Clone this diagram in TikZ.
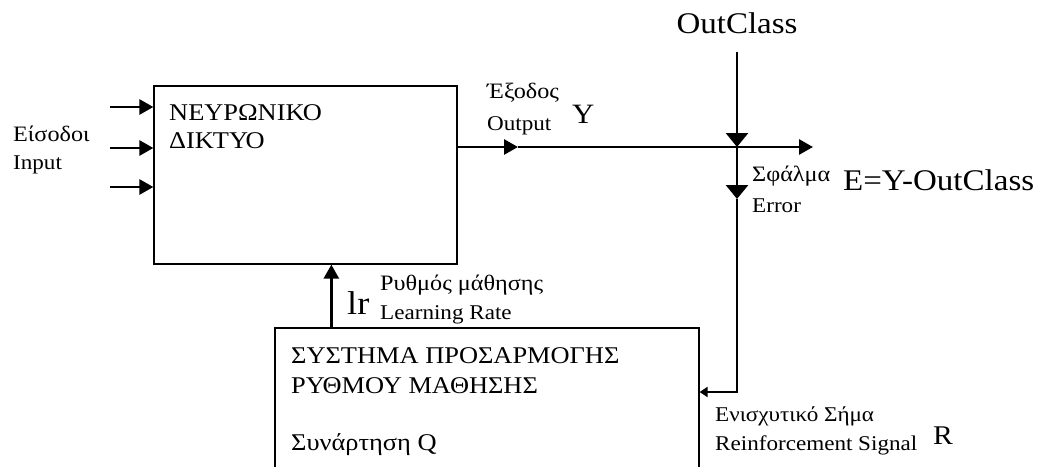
\documentclass[tikz,border=0pt]{standalone}
\usepackage{fontspec}
\setmainfont{Liberation Serif}[FakeStretch=1.1]
\usetikzlibrary{arrows.meta,positioning}

\begin{document}
\begin{tikzpicture}[
  x=1pt, y=-1pt,
  box/.style={draw, line width=1.3pt, inner sep=0pt},
  conn/.style={line width=2.8pt},
  arr/.style={-{Triangle[length=14pt,width=15pt]}},
  warr/.style={-{Triangle[length=14pt,width=22pt]}},
  sarr/.style={-{Triangle[length=8pt,width=10pt]}},
  lbl/.style={font=\fontsize{21}{25}\selectfont, inner sep=0pt, anchor=base west},
  grlbl/.style={font=\fontsize{22}{26}\selectfont, inner sep=0pt, anchor=base west},
  biglbl/.style={font=\fontsize{30}{35}\selectfont, inner sep=0pt, anchor=base west},
  boxtxt/.style={font=\fontsize{24}{29}\selectfont, inner sep=0pt, anchor=base west},
]
  \useasboundingbox (0,0) rectangle (1044,466);
  \clip (0,0) rectangle (1044,466);

  % Neural network block
  \node[box, minimum width=303pt, minimum height=178pt] (nn) at (305.5,175) {};
  \node[boxtxt] (nntitle) at (169,120) {ΝΕΥΡΩΝΙΚΟ};
  \node[boxtxt] (nnsub) at (169,148) {ΔΙΚΤΥΟ};

  % Learning rate adaptation block (runs past the lower edge)
  \node[box, minimum width=424pt, minimum height=180pt] (adapt) at (487,418) {};
  \node[boxtxt] (adtitle) at (291,363) {ΣΥΣΤΗΜΑ ΠΡΟΣΑΡΜΟΓΗΣ};
  \node[boxtxt] (adsub) at (291,393) {ΡΥΘΜΟΥ ΜΑΘΗΣΗΣ};
  \node[boxtxt] (adfunc) at (291,450) {Συνάρτηση Q};

  % Inputs
  \foreach \y/\n in {107/1, 148/2, 187/3}
    \coordinate (in\n) at (110,\y);
  \foreach \n in {1,2,3}
    \draw[conn, arr] (in\n) -- (in\n -| nn.west);
  \node[grlbl] (ingr) at (13,141) {Είσοδοι};
  \node[lbl] (inen) at (13,169) {Input};

  % Output Y
  \coordinate (j) at (737,147);
  \coordinate (ymid) at (518,147);
  \coordinate (yend) at (813,147);
  \draw[conn, arr] (nn.east |- j) -- (ymid);
  \draw[conn, arr] (ymid) -- (yend);
  \node[grlbl] (outgr) at (487,98) {Έξοδος};
  \node[lbl] (outen) at (487,130) {Output};
  \node[biglbl, font=\fontsize{28}{33}\selectfont] (ysym) at (572,123) {Y};

  % Target class
  \node[biglbl, anchor=base] (outclass) at (737,33) {OutClass};
  \coordinate (oc) at (737,52);
  \draw[conn, warr] (oc) -- (j);

  % Error and reinforcement signal
  \coordinate (err) at (737,199);
  \coordinate (corner) at (737,392);
  \draw[conn, warr] (j) -- (err);
  \draw[conn, sarr] (err) -- (corner) -- (adapt.east |- corner);
  \node[grlbl] (errgr) at (752,181) {Σφάλμα};
  \node[lbl] (erren) at (752,212) {Error};
  \node[biglbl] (errformula) at (843,190) {E=Y-OutClass};
  \node[lbl] (rsgr) at (715,421) {Ενισχυτικό Σήμα};
  \node[lbl] (rsen) at (715,450) {Reinforcement Signal};
  \node[biglbl, font=\fontsize{27}{31}\selectfont] (rsym) at (933,444) {R};

  % Learning rate back to the network
  \draw[conn, arr] ([xshift=57pt]adapt.north west) coordinate (lrfoot)
    -- (lrfoot |- nn.south);
  \node[grlbl] (lrgr) at (380,290) {Ρυθμός μάθησης};
  \node[lbl] (lren) at (380,319) {Learning Rate};
  \node[biglbl, font=\fontsize{33}{38}\selectfont] (lrsym) at (347,314) {lr};
\end{tikzpicture}
\end{document}
